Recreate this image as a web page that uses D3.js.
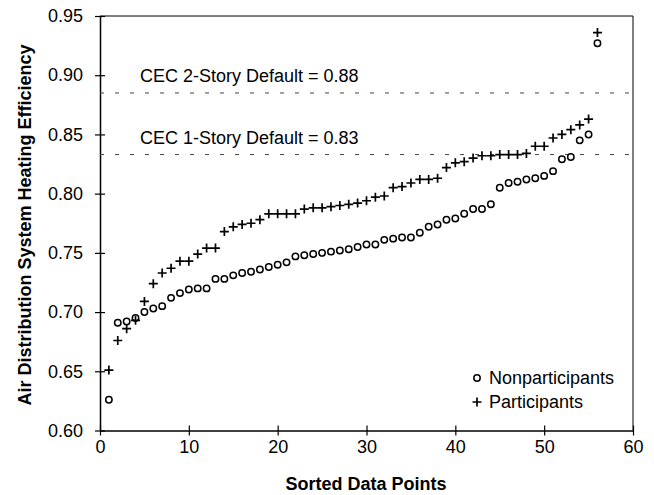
<!DOCTYPE html>
<html>
<head>
<meta charset="utf-8">
<script src="https://cdn.jsdelivr.net/npm/d3@7"></script>
<style>
body { margin: 0; background: #fff; }
text { font-family: "Liberation Sans", Arial, sans-serif; fill: #000; }
</style>
</head>
<body>
<svg id="chart" width="654" height="495"></svg>
<script>
// sorted efficiencies, one value per data point (1..56)
var nonparticipants = [0.626, 0.691, 0.692, 0.695, 0.700, 0.703, 0.705, 0.712, 0.716, 0.719,
	0.720, 0.720, 0.728, 0.728, 0.731, 0.733, 0.734, 0.736, 0.738, 0.740,
	0.742, 0.747, 0.748, 0.749, 0.750, 0.751, 0.752, 0.753, 0.755, 0.757,
	0.757, 0.761, 0.762, 0.763, 0.763, 0.767, 0.772, 0.774, 0.778, 0.779,
	0.783, 0.787, 0.787, 0.791, 0.805, 0.809, 0.810, 0.812, 0.813, 0.815,
	0.819, 0.829, 0.831, 0.845, 0.850, 0.927];
var participants = [0.651, 0.676, 0.686, 0.693, 0.709, 0.724, 0.733, 0.737, 0.743, 0.743,
	0.749, 0.754, 0.754, 0.768, 0.772, 0.774, 0.775, 0.778, 0.783, 0.783,
	0.783, 0.783, 0.787, 0.788, 0.788, 0.789, 0.790, 0.791, 0.792, 0.794,
	0.797, 0.798, 0.805, 0.806, 0.809, 0.812, 0.812, 0.813, 0.822, 0.826,
	0.827, 0.830, 0.832, 0.832, 0.833, 0.833, 0.833, 0.834, 0.840, 0.840,
	0.847, 0.850, 0.854, 0.858, 0.863, 0.936];

var defaults = [
	{label: "CEC 2-Story Default = 0.88", value: 0.885},
	{label: "CEC 1-Story Default = 0.83", value: 0.833}
];
var xTicks = [0, 10, 20, 30, 40, 50, 60];
var yTicks = [0.60, 0.65, 0.70, 0.75, 0.80, 0.85, 0.90, 0.95];

var svg = d3.select("#chart");
var plotLeft = 100, plotRight = 633, plotTop = 16, plotBottom = 430.5;
var fontSize = "18px";

var x = d3.scaleLinear().domain([0, 60]).range([plotLeft, plotRight]);
var y = d3.scaleLinear().domain([0.60, 0.95]).range([plotBottom, plotTop]);

// frame on top and right
svg.append("line").attr("x1", plotLeft).attr("x2", plotRight).attr("y1", plotTop).attr("y2", plotTop)
	.attr("stroke", "#000").attr("stroke-width", 1);
svg.append("line").attr("x1", plotRight).attr("x2", plotRight).attr("y1", plotTop).attr("y2", plotBottom)
	.attr("stroke", "#000").attr("stroke-width", 1);

// axes, ticks cross the axis line
var yAxis = svg.append("g")
	.attr("transform", "translate(" + plotLeft + ",0)")
	.call(d3.axisLeft(y).tickValues(yTicks).tickFormat(d3.format(".2f"))
		.tickSizeInner(5).tickSizeOuter(0).tickPadding(12));
var xAxis = svg.append("g")
	.attr("transform", "translate(0," + plotBottom + ")")
	.call(d3.axisBottom(x).tickValues(xTicks).tickFormat(d3.format("d"))
		.tickSizeInner(5).tickSizeOuter(0).tickPadding(5));

yAxis.selectAll(".tick line").attr("x1", 5).attr("x2", -5);
xAxis.selectAll(".tick line").attr("y1", -5).attr("y2", 5);
svg.selectAll(".domain").attr("stroke-width", 1.5);
svg.selectAll(".tick line").attr("stroke-width", 1.2);
svg.selectAll(".tick text").style("font-size", fontSize).attr("fill", "#000");

// dashed default lines with labels
defaults.forEach(function(d){
	svg.append("line")
		.attr("x1", plotLeft).attr("x2", plotRight)
		.attr("y1", y(d.value)).attr("y2", y(d.value))
		.attr("stroke", "#444").attr("stroke-width", 1)
		.attr("stroke-dasharray", "4,11");
	svg.append("text")
		.attr("x", 140).attr("y", y(d.value) - 10.5)
		.style("font-size", fontSize)
		.text(d.label);
});

// nonparticipants: open circles
svg.append("g").selectAll("circle")
	.data(nonparticipants)
	.enter()
	.append("circle")
	.attr("cx", function(d, i){ return x(i + 1); })
	.attr("cy", function(d){ return y(d); })
	.attr("r", 3.2)
	.attr("fill", "none")
	.attr("stroke", "#000")
	.attr("stroke-width", 1.5);

// participants: plus signs
svg.append("g").selectAll("path")
	.data(participants)
	.enter()
	.append("path")
	.attr("d", "M-4.5,0H4.5M0,-4.5V4.5")
	.attr("transform", function(d, i){ return "translate(" + x(i + 1) + "," + y(d) + ")"; })
	.attr("stroke", "#000")
	.attr("stroke-width", 1.7);

// legend
var legend = svg.append("g");
legend.append("circle").attr("cx", 477).attr("cy", 378).attr("r", 3.2)
	.attr("fill", "none").attr("stroke", "#000").attr("stroke-width", 1.5);
legend.append("text").attr("x", 489).attr("y", 378).attr("dy", "0.35em")
	.style("font-size", fontSize).text("Nonparticipants");
legend.append("path").attr("d", "M-4.5,0H4.5M0,-4.5V4.5")
	.attr("transform", "translate(477,402)")
	.attr("stroke", "#000").attr("stroke-width", 1.7);
legend.append("text").attr("x", 489).attr("y", 402).attr("dy", "0.35em")
	.style("font-size", fontSize).text("Participants");

// axis titles
svg.append("text")
	.attr("transform", "translate(31,225) rotate(-90)")
	.attr("text-anchor", "middle")
	.style("font-size", fontSize).style("font-weight", "bold")
	.text("Air Distribution System Heating Efficiency");
svg.append("text")
	.attr("x", 366).attr("y", 490)
	.attr("text-anchor", "middle")
	.style("font-size", fontSize).style("font-weight", "bold")
	.text("Sorted Data Points");
</script>
</body>
</html>
